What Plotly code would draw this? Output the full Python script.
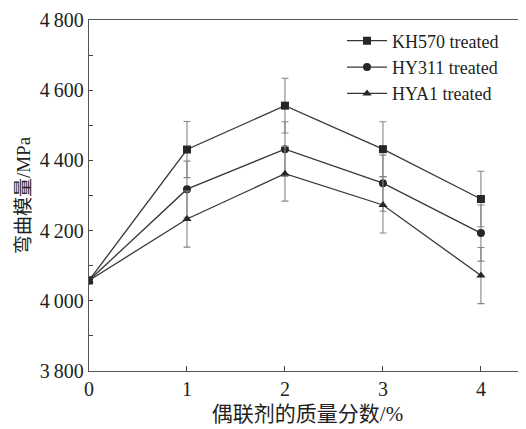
import plotly.graph_objects as go

x_vals = [0, 1, 2, 3, 4]
kh570 = [4058, 4431, 4556, 4432, 4290]
hy311 = [4058, 4318, 4432, 4335, 4193]
hya1 = [4058, 4233, 4362, 4273, 4072]
err_kh570 = [0, 80, 78, 78, 79]
err_hy311 = [0, 80, 78, 80, 80]
err_hya1 = [0, 80, 78, 80, 80]
names = ["KH570 treated", "HY311 treated", "HYA1 treated"]
symbols = ["square", "circle", "triangle-up"]
y_tickvals = [3800, 4000, 4200, 4400, 4600, 4800]
y_ticktext = ["3\u2009800", "4\u2009000", "4\u2009200", "4\u2009400", "4\u2009600", "4\u2009800"]
x_tickvals = [0, 1, 2, 3, 4]
x_ticktext = ["0", "1", "2", "3", "4"]

line_col = "#3a3536"
mark_col = "#2a2627"
err_col = "#8a8585"
txt_col = "#231f20"
mixed_font = "Liberation Serif, Noto Sans CJK SC"

fig = go.Figure()
for name, ys, es, sym in zip(names, [kh570, hy311, hya1], [err_kh570, err_hy311, err_hya1], symbols):
    fig.add_trace(go.Scatter(
        x=x_vals, y=ys, name=name, mode="lines+markers",
        line=dict(color=line_col, width=1.3),
        marker=dict(symbol=sym, size=8, color=mark_col),
        error_y=dict(type="data", array=es, visible=True, color=err_col, thickness=1.1, width=3.5),
    ))

fig.update_layout(
    width=518, height=421,
    margin=dict(l=81, r=0, t=12, b=58),
    plot_bgcolor="white", paper_bgcolor="white",
    showlegend=True,
    legend=dict(x=0.579, y=0.993, xanchor="left", yanchor="top",
                font=dict(family="Liberation Serif", size=18, color=txt_col),
                bgcolor="rgba(0,0,0,0)", tracegroupgap=0, itemwidth=40),
    font=dict(family="Liberation Serif", color=txt_col),
)
fig.update_xaxes(
    range=[0, 4.46], tickvals=x_tickvals, ticktext=x_ticktext,
    ticks="inside", ticklen=5, tickwidth=1, tickcolor="#444",
    showline=True, linecolor="#555", linewidth=1.3, mirror=True,
    showgrid=False, zeroline=False, automargin=False,
    tickfont=dict(family="Liberation Serif", size=20, color=txt_col),
    title=dict(text="偶联剂的质量分数/%", font=dict(family=mixed_font, size=21, color=txt_col), standoff=7),
)
fig.update_yaxes(
    range=[3800, 4800], tickvals=y_tickvals, ticktext=y_ticktext,
    ticks="inside", ticklen=4, tickwidth=1, tickcolor="#444",
    minor=dict(tickvals=[3900, 4100, 4300, 4500, 4700], ticks="inside", ticklen=4, tickwidth=1, tickcolor="#444"),
    showline=True, linecolor="#555", linewidth=1.3,
    showgrid=False, zeroline=False, automargin=False,
    tickfont=dict(family="Liberation Serif", size=20, color=txt_col),
    title=dict(text="弯曲模量/MPa", font=dict(family=mixed_font, size=19, color=txt_col), standoff=4),
)

fig.write_html("out.html")
